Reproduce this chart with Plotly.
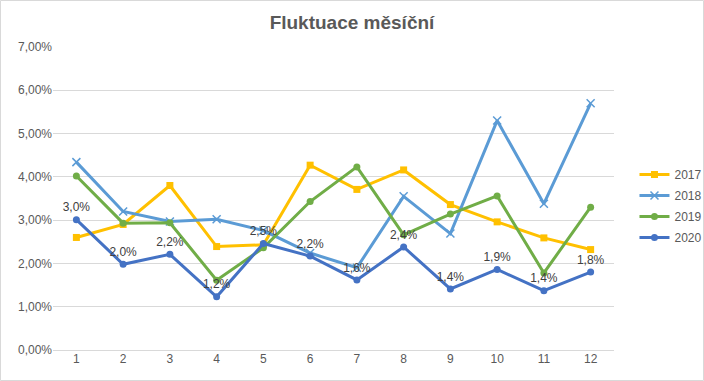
import plotly.graph_objects as go

months = [1, 2, 3, 4, 5, 6, 7, 8, 9, 10, 11, 12]
y2017 = [0.0260, 0.0290, 0.0380, 0.0239, 0.0243, 0.0427, 0.0371, 0.0416, 0.0336, 0.0296, 0.0259, 0.0232]
y2018 = [0.0434, 0.0320, 0.0297, 0.0302, 0.0276, 0.0224, 0.0190, 0.0355, 0.0269, 0.0530, 0.0338, 0.0570]
y2019 = [0.0402, 0.0293, 0.0294, 0.0161, 0.0236, 0.0343, 0.0423, 0.0266, 0.0314, 0.0356, 0.0178, 0.0330]
y2020 = [0.0301, 0.0198, 0.0221, 0.0123, 0.0246, 0.0217, 0.0162, 0.0238, 0.0141, 0.0186, 0.0137, 0.0180]
yticks = [0, 0.01, 0.02, 0.03, 0.04, 0.05, 0.06, 0.07]

fig = go.Figure()
series = [
    ("2017", y2017, "#FFC000", dict(symbol="square", size=7)),
    ("2018", y2018, "#5B9BD5", dict(symbol="x-thin", size=8, line=dict(width=1.5, color="#5B9BD5"))),
    ("2019", y2019, "#70AD47", dict(symbol="circle", size=7)),
    ("2020", y2020, "#4472C4", dict(symbol="circle", size=7)),
]
for name, ys, col, mk in series:
    if name == "2020":
        kw = dict(mode="lines+markers+text", texttemplate="%{y:.1%}", textposition="top center",
                  textfont=dict(family="Liberation Sans, Arial", size=12, color="#404040"))
    else:
        kw = dict(mode="lines+markers")
    fig.add_trace(go.Scatter(x=months, y=ys, name=name, legendgroup=name,
                             line=dict(color=col, width=3), marker=dict(color=col, **mk), **kw))

fig.update_layout(
    width=704, height=381,
    margin=dict(l=53, r=90, t=47, b=31, autoexpand=False),
    paper_bgcolor="white", plot_bgcolor="white",
    separators=", ",
    font=dict(family="Liberation Sans, Arial", size=12, color="#595959"),
    title=dict(text="<b>Fluktuace měsíční</b>", x=352/704, xanchor="center", y=1 - 22/381, yanchor="middle",
               font=dict(family="Liberation Sans, Arial", size=19, color="#595959")),
    showlegend=True,
    legend=dict(x=1.0365, xanchor="left", y=0.475, yanchor="middle", tracegroupgap=2,
                font=dict(size=12, color="#595959"), bgcolor="rgba(0,0,0,0)"),
    xaxis=dict(range=[0.5, 12.5], tickvals=months, showgrid=False, zeroline=False,
               showline=False, ticks="", tickfont=dict(size=12, color="#595959")),
    yaxis=dict(range=[0, 0.07], tickvals=yticks, tickformat=".2%", gridcolor="#D9D9D9", gridwidth=1,
               zeroline=True, zerolinecolor="#D9D9D9", zerolinewidth=1, showline=False, ticks="",
               tickfont=dict(size=12, color="#595959")),
    shapes=[dict(type="rect", xref="paper", yref="paper",
                 x0=(0.5 - 53) / 561, x1=(703.5 - 53) / 561,
                 y0=(350 - 380.5) / 303, y1=(350 - 0.5) / 303,
                 line=dict(color="#D9D9D9", width=1), layer="below")],
)
fig.write_html("out.html", config={"displayModeBar": False},
               post_script="document.body.style.margin='0';document.body.style.overflow='hidden';")
